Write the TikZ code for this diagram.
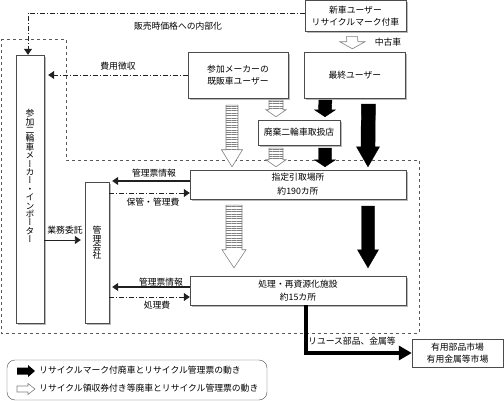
\documentclass[tikz,border=0pt]{standalone}
\usepackage{fontspec}
\setmainfont{Noto Sans CJK JP}
\newfontfamily\vjp[RawFeature=+vert]{Noto Sans CJK JP}
\newcommand{\tightlines}{\lineskiplimit=-20pt\relax\lineskip=0pt\relax}
\usetikzlibrary{positioning, shadows, arrows.meta, calc, patterns.meta}

\begin{document}
\begin{tikzpicture}[
    x=1pt, y=-1pt,
    font=\fontsize{8.8}{12.5}\selectfont,
    box/.style={rectangle, draw=gray!60!black, fill=white, align=center, inner sep=1pt,
        drop shadow={shadow xshift=1.6pt, shadow yshift=-1.6pt, fill=gray!55, opacity=1}},
    plainbox/.style={rectangle, draw=gray!60!black, fill=white, align=center, inner sep=1pt},
    vtext/.style={align=center, inner sep=0pt, font=\vjp\fontsize{8.8}{8.4}\selectfont},
    lbl/.style={inner sep=1pt},
    info/.style={-{Triangle[length=6pt,width=8pt]}, line width=1.1pt, draw=gray!25!black},
    money/.style={-{Triangle[length=6pt,width=8pt]}, line width=0.7pt, draw=gray!25!black,
        dash pattern=on 5pt off 2pt on 1pt off 2pt},
    blockar/.style n args={3}{to path={
        ($(\tikztostart)+(-#1pt,0pt)$) -- ($(\tikztotarget)+(-#1pt,#3pt)$)
        -- ($(\tikztotarget)+(-#2pt,#3pt)$) -- (\tikztotarget)
        -- ($(\tikztotarget)+(#2pt,#3pt)$) -- ($(\tikztotarget)+(#1pt,#3pt)$)
        -- ($(\tikztostart)+(#1pt,0pt)$) -- cycle}},
    blackar/.style n args={3}{blockar={#1}{#2}{#3}, fill=black, draw=black},
    hollowar/.style n args={3}{blockar={#1}{#2}{#3}, fill=white, draw=gray, line width=0.6pt},
    hatchar/.style n args={3}{blockar={#1}{#2}{#3}, fill=white, draw=gray, line width=0.6pt,
        path picture={\fill[pattern={Lines[angle=0,distance=2.4pt,line width=0.5pt]}, pattern color=gray]
            (path picture bounding box.north west) rectangle ([yshift=#3pt]path picture bounding box.south east);}}
]
    \useasboundingbox (0,0) rectangle (504,401);

    % area of the recycling system
    \draw[gray!70!black, dashed, line width=0.7pt] (1,39) -- (66,39) -- (66,160) -- (419,160) -- (419,333) -- (1,333) -- cycle;

    % users and shops
    \node[box, minimum width=101pt, minimum height=31pt] (newu) at (355.5,16) {新車ユーザー\\リサイクルマーク付車};
    \node[box, minimum width=100pt, minimum height=46pt] (kihan) at (238,75) {参加メーカーの\\既販車ユーザー};
    \node[box, minimum width=101pt, minimum height=46pt, right=16pt of kihan] (final) {最終ユーザー};
    \node[box, minimum width=82pt, minimum height=25pt] (shop) at (299,132.5) {廃棄二輪車取扱店};

    % collection and treatment
    \node[box, minimum width=216pt, minimum height=29pt] (shitei) at (298,184.5) {指定引取場所\\[1.5pt]約190カ所};
    \node[box, minimum width=216pt, minimum height=29pt] (shori) at (298,290.5) {処理・再資源化施設\\約15カ所};
    \node[plainbox, minimum width=91pt, minimum height=28pt] (market) at (457.5,353) {有用部品市場\\有用金属等市場};

    % makers and management company
    \node[box, minimum width=28pt, minimum height=268pt] (maker) at (30,189) {};
    \node[vtext] (makertxt) at (30,176) {\tightlines 参\\加\\二\\輪\\車\\メ\\ー\\カ\\ー\\・\\イ\\ン\\ポ\\ー\\タ\\ー};
    \node[box, minimum width=24pt, minimum height=141pt] (kanri) at (97,252.5) {};
    \node[vtext] (kanritxt) at (97,243) {\tightlines 管\\理\\会\\社};

    % vehicle flows
    \draw[hollowar={5.5}{12.5}{7}] ([xshift=-3.5pt,yshift=-5pt]newu.south) to ([xshift=-2.5pt,yshift=3pt]final.north);
    \draw[hatchar={6}{10.5}{17}] ([xshift=-6pt,yshift=-7pt]kihan.south) to ([xshift=-66pt,yshift=3pt]shitei.north);
    \draw[hatchar={7}{10}{7}] ([xshift=38pt,yshift=-2pt]kihan.south) to ([xshift=-23pt,yshift=3pt]shop.north);
    \draw[hatchar={7}{10}{7}] ([xshift=-23pt,yshift=-3pt]shop.south) to ([xshift=-22pt,yshift=3pt]shitei.north);
    \draw[blackar={6.5}{10.5}{7}] ([xshift=-29.5pt,yshift=-2pt]final.south) to ([xshift=26pt,yshift=3pt]shop.north);
    \draw[blackar={6.5}{10.5}{7}] ([xshift=26pt,yshift=-3pt]shop.south) to ([xshift=27pt,yshift=3pt]shitei.north);
    \draw[blackar={7}{11.5}{20}] ([xshift=13.5pt,yshift=-6pt]final.south) to ([xshift=70pt,yshift=3pt]shitei.north);
    \draw[hatchar={8}{12}{18}] ([xshift=-64pt,yshift=-6pt]shitei.south) to ([xshift=-64pt,yshift=8pt]shori.north);
    \draw[blackar={6.5}{10.5}{18}] ([xshift=70pt,yshift=-7pt]shitei.south) to ([xshift=70pt,yshift=8pt]shori.north);
    \draw[line width=3.5pt, -{Triangle[length=13pt,width=14pt]}] ([xshift=8pt]shori.south) |- (market.west);

    % money and information
    \draw[money] ([yshift=3pt]newu.west) -| ([xshift=-2pt]maker.north);
    \draw[money, shorten >=4pt] (kihan.west) -- (kihan.west -| maker.east);
    \draw[info, line width=0.9pt, shorten >=4pt] ([yshift=-51pt]maker.east) -- ([yshift=-51pt]maker.east -| kanri.west);
    \draw[info, shorten >=3pt] ([yshift=3.5pt]shitei.west) -- ([yshift=3.5pt]shitei.west -| kanri.east);
    \draw[money] ([yshift=-8.5pt]shitei.west -| kanri.east) -- ([yshift=-8.5pt]shitei.west);
    \draw[info, shorten >=3pt] ([yshift=3.5pt]shori.west) -- ([yshift=3.5pt]shori.west -| kanri.east);
    \draw[money] ([yshift=-6.5pt]shori.west -| kanri.east) -- ([yshift=-6.5pt]shori.west);

    % labels
    \node[lbl] (naibu) at (178,26) {販売時価格への内部化};
    \node[lbl] (chuko) at (388,42) {中古車};
    \node[lbl] (hiyo) at (118,66) {費用徴収};
    \node[lbl] (joho1) at (154,173) {管理票情報};
    \node[lbl] (hokan) at (153,202) {保管・管理費};
    \node[lbl] (gyomu) at (65,230) {業務委託};
    \node[lbl] (joho2) at (161,282) {管理票情報};
    \node[lbl] (shorihi) at (157,305) {処理費};
    \node[lbl] (reuse) at (352,341) {リユース部品、金属等};

    % legend
    \node[draw=gray!60!black, rounded corners=8pt, minimum width=260pt, minimum height=40pt] (legend) at (137,380) {};
    \fill (17,367.5) -- (28,367.5) -- (28,365) -- (35,371) -- (28,377) -- (28,374.5) -- (17,374.5) -- cycle;
    \draw[gray, fill=white, line width=0.6pt] (17,386) -- (28,386) -- (28,383.5) -- (35,389) -- (28,394.5) -- (28,392) -- (17,392) -- cycle;
    \node[lbl, anchor=west] (lgblack) at (38,370) {リサイクルマーク付廃車とリサイクル管理票の動き};
    \node[lbl, anchor=west] (lghollow) at (38,388) {リサイクル領収券付き等廃車とリサイクル管理票の動き};
\end{tikzpicture}
\end{document}
